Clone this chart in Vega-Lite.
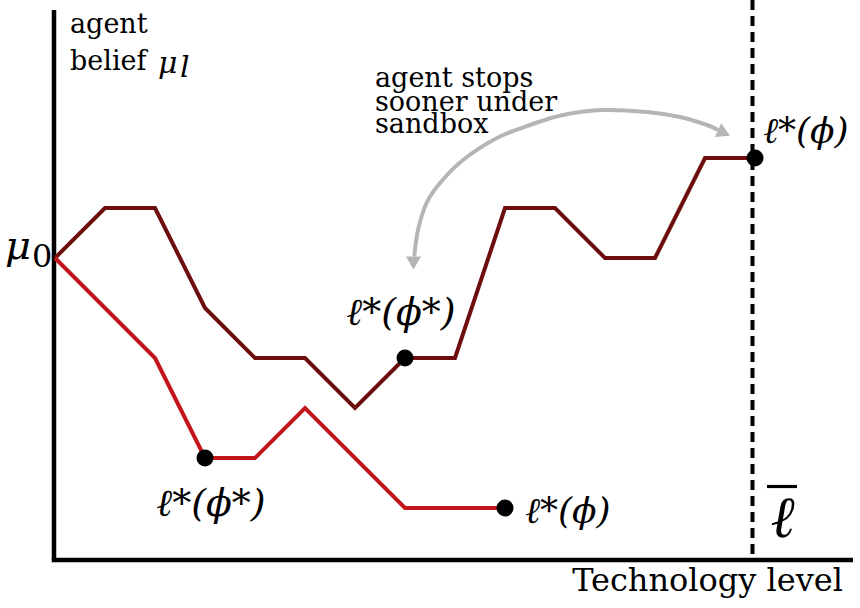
{
  "$schema": "https://vega.github.io/schema/vega-lite/v6.json",
  "width": 860,
  "height": 608,
  "padding": 0,
  "autosize": {"type": "none"},
  "background": "white",
  "config": {"view": {"stroke": null}},
  "datasets": {
    "frame": [
      {"u": -0.02, "v": 4.96, "u2": -0.02, "v2": -6.04},
      {"u": -0.065, "v": -6.04, "u2": 15.96, "v2": -6.04}
    ],
    "bound": [
      {"u": 13.95, "v": 5.16, "u2": 13.95, "v2": -6.04}
    ],
    "bar": [
      {"u": 14.24, "v": -4.57, "u2": 14.84, "v2": -4.57}
    ],
    "curve": [
      {"u": 7.186, "v": 0.03},
      {"u": 7.26, "v": 0.56},
      {"u": 7.43, "v": 1.10},
      {"u": 7.70, "v": 1.50},
      {"u": 8.16, "v": 1.96},
      {"u": 8.84, "v": 2.40},
      {"u": 9.50, "v": 2.66},
      {"u": 10.16, "v": 2.86},
      {"u": 10.96, "v": 2.96},
      {"u": 11.84, "v": 2.92},
      {"u": 12.50, "v": 2.82},
      {"u": 13.04, "v": 2.66},
      {"u": 13.26, "v": 2.56}
    ],
    "headDown": [{"u": 7.17, "v": -0.1}],
    "headRight": [{"u": 13.38, "v": 2.5}],
    "paths": [
      {"series": "without sandbox", "u": 0, "v": 0},
      {"series": "without sandbox", "u": 1, "v": 1},
      {"series": "without sandbox", "u": 2, "v": 1},
      {"series": "without sandbox", "u": 3, "v": -1},
      {"series": "without sandbox", "u": 4, "v": -2},
      {"series": "without sandbox", "u": 5, "v": -2},
      {"series": "without sandbox", "u": 6, "v": -3},
      {"series": "without sandbox", "u": 7, "v": -2},
      {"series": "without sandbox", "u": 8, "v": -2},
      {"series": "without sandbox", "u": 9, "v": 1},
      {"series": "without sandbox", "u": 10, "v": 1},
      {"series": "without sandbox", "u": 11, "v": 0},
      {"series": "without sandbox", "u": 12, "v": 0},
      {"series": "without sandbox", "u": 13, "v": 2},
      {"series": "without sandbox", "u": 14, "v": 2},
      {"series": "sandbox", "u": 0, "v": 0},
      {"series": "sandbox", "u": 1, "v": -1},
      {"series": "sandbox", "u": 2, "v": -2},
      {"series": "sandbox", "u": 3, "v": -4},
      {"series": "sandbox", "u": 4, "v": -4},
      {"series": "sandbox", "u": 5, "v": -3},
      {"series": "sandbox", "u": 7, "v": -5},
      {"series": "sandbox", "u": 9, "v": -5}
    ],
    "stops": [
      {"u": 7, "v": -2},
      {"u": 14, "v": 2},
      {"u": 3, "v": -4},
      {"u": 9, "v": -5}
    ],
    "plainText": [
      {"label": "agent", "u": 0.3, "v": 4.5},
      {"label": "belief", "u": 0.3, "v": 3.76},
      {"label": "agent stops", "u": 6.4, "v": 3.42},
      {"label": "sooner under", "u": 6.4, "v": 2.95},
      {"label": "sandbox", "u": 6.4, "v": 2.51}
    ],
    "xTitle": [{"label": "Technology level", "u": 15.76, "v": -6.65}],
    "mathLeft": [
      {"label": "ℓ*(ϕ)", "u": 14.16, "v": 2.52},
      {"label": "ℓ*(ϕ)", "u": 9.4, "v": -5.08}
    ],
    "mathCenter": [
      {"label": "ℓ*(ϕ*)", "u": 6.92, "v": -1.12},
      {"label": "ℓ*(ϕ*)", "u": 3.12, "v": -4.94}
    ],
    "muZero": [{"label": "μ", "u": -1.0, "v": -0.02}],
    "zeroSub": [{"label": "0", "u": -0.46, "v": -0.18}],
    "muL": [
      {"label": "μ", "u": 2.06, "v": 3.7},
      {"label": "l", "u": 2.5, "v": 3.62}
    ],
    "ellBar": [{"label": "ℓ", "u": 14.55, "v": -5.24}]
  },
  "encoding": {
    "x": {"field": "u", "type": "quantitative", "scale": {"domain": [-1.1, 16.1], "nice": false, "zero": false}, "axis": null},
    "y": {"field": "v", "type": "quantitative", "scale": {"domain": [-7.0, 5.16], "nice": false, "zero": false}, "axis": null}
  },
  "layer": [
    {
      "data": {"name": "frame"},
      "mark": {"type": "rule", "color": "black", "strokeWidth": 4.5},
      "encoding": {"x2": {"field": "u2"}, "y2": {"field": "v2"}}
    },
    {
      "data": {"name": "bound"},
      "mark": {"type": "rule", "color": "black", "strokeWidth": 4, "strokeDash": [10, 6]},
      "encoding": {"x2": {"field": "u2"}, "y2": {"field": "v2"}}
    },
    {
      "data": {"name": "bar"},
      "mark": {"type": "rule", "color": "black", "strokeWidth": 3.2},
      "encoding": {"x2": {"field": "u2"}, "y2": {"field": "v2"}}
    },
    {
      "data": {"name": "curve"},
      "mark": {"type": "line", "color": "#b5b5b5", "strokeWidth": 4, "interpolate": "cardinal"},
      "encoding": {}
    },
    {
      "data": {"name": "headDown"},
      "mark": {"type": "point", "shape": "triangle-down", "filled": true, "color": "#b5b5b5", "opacity": 1, "size": 230},
      "encoding": {}
    },
    {
      "data": {"name": "headRight"},
      "mark": {"type": "point", "shape": "triangle-right", "angle": 25, "filled": true, "color": "#b5b5b5", "opacity": 1, "size": 230},
      "encoding": {}
    },
    {
      "data": {"name": "paths"},
      "mark": {"type": "line", "strokeWidth": 4},
      "encoding": {
        "color": {"field": "series", "type": "nominal", "scale": {"domain": ["without sandbox", "sandbox"], "range": ["#6d0d0d", "#c2171a"]}, "legend": null}
      }
    },
    {
      "data": {"name": "stops"},
      "mark": {"type": "circle", "color": "black", "opacity": 1, "size": 290},
      "encoding": {}
    },
    {
      "data": {"name": "plainText"},
      "mark": {"type": "text", "font": "DejaVu Serif", "fontSize": 27, "align": "left", "baseline": "alphabetic", "color": "black"},
      "encoding": {"text": {"field": "label"}}
    },
    {
      "data": {"name": "xTitle"},
      "mark": {"type": "text", "font": "DejaVu Serif", "fontSize": 32, "align": "right", "baseline": "alphabetic", "color": "black"},
      "encoding": {"text": {"field": "label"}}
    },
    {
      "data": {"name": "mathLeft"},
      "mark": {"type": "text", "font": "DejaVu Serif", "fontSize": 36, "fontStyle": "italic", "align": "left", "baseline": "middle", "color": "black"},
      "encoding": {"text": {"field": "label"}}
    },
    {
      "data": {"name": "mathCenter"},
      "mark": {"type": "text", "font": "DejaVu Serif", "fontSize": 38, "fontStyle": "italic", "align": "center", "baseline": "middle", "color": "black"},
      "encoding": {"text": {"field": "label"}}
    },
    {
      "data": {"name": "muZero"},
      "mark": {"type": "text", "font": "DejaVu Serif", "fontSize": 40, "fontStyle": "italic", "align": "left", "baseline": "alphabetic", "color": "black"},
      "encoding": {"text": {"field": "label"}}
    },
    {
      "data": {"name": "zeroSub"},
      "mark": {"type": "text", "font": "DejaVu Serif", "fontSize": 32, "align": "left", "baseline": "alphabetic", "color": "black"},
      "encoding": {"text": {"field": "label"}}
    },
    {
      "data": {"name": "muL"},
      "mark": {"type": "text", "font": "DejaVu Serif", "fontSize": 30, "fontStyle": "italic", "align": "left", "baseline": "alphabetic", "color": "black"},
      "encoding": {"text": {"field": "label"}}
    },
    {
      "data": {"name": "ellBar"},
      "mark": {"type": "text", "font": "DejaVu Serif", "fontSize": 58, "fontStyle": "italic", "align": "center", "baseline": "middle", "color": "black"},
      "encoding": {"text": {"field": "label"}}
    }
  ]
}
